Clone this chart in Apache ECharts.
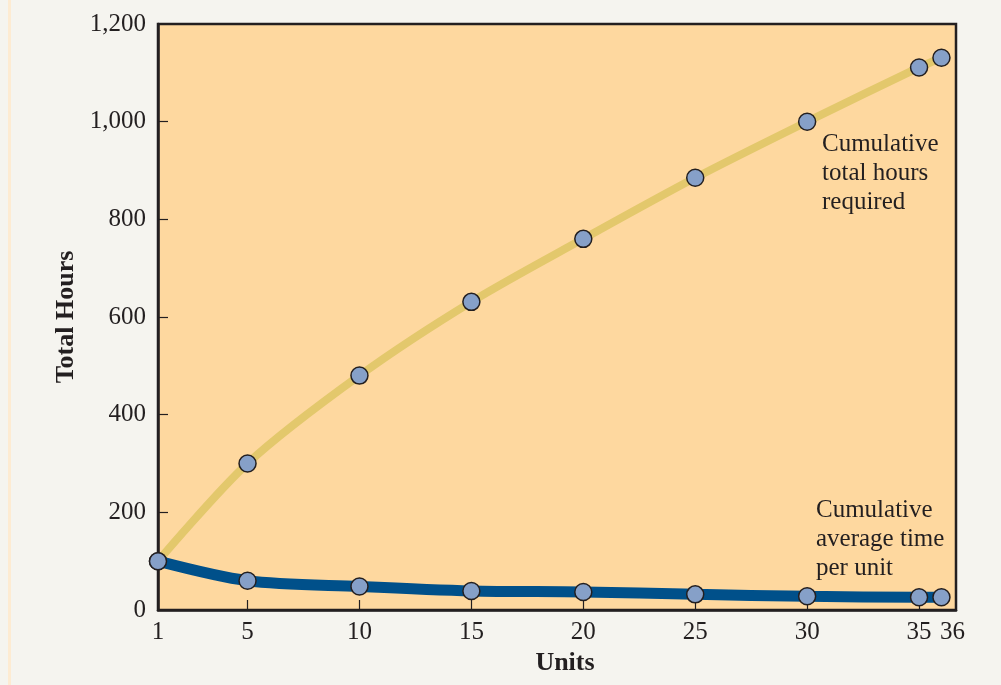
<!DOCTYPE html>
<html>
<head>
<meta charset="utf-8">
<script src="https://cdn.jsdelivr.net/npm/echarts@6/dist/echarts.min.js"></script>
<style>
html,body{margin:0;padding:0;background:#f5f4ef;}
#c{width:1001px;height:685px;}
</style>
</head>
<body>
<div id="c"></div>
<script>
const units = [1, 5, 10, 15, 20, 25, 30, 35, 36];
const totalHours = [100, 300, 480, 631, 760, 885, 1000, 1111, 1131];
const avgHours = [100, 60, 48, 39, 37, 32, 28, 26, 26];
const xTicks = [1, 5, 10, 15, 20, 25, 30, 35, 36];
const yTicks = [0, 200, 400, 600, 800, 1000, 1200];

const font = '"Liberation Serif", "DejaVu Serif", serif';
const chart = echarts.init(document.getElementById('c'));
const marker = {color: '#86a0c8', borderColor: '#231f20', borderWidth: 1.5};

chart.setOption({
  backgroundColor: '#f5f4ef',
  animation: false,
  grid: {left: 158, right: 45, top: 24, bottom: 75, show: true,
         backgroundColor: '#fed89f', borderColor: '#231f20', borderWidth: 2.5},
  xAxis: {
    type: 'value', min: 1, max: 36.65,
    name: 'Units', nameLocation: 'middle', nameGap: 38,
    nameTextStyle: {fontFamily: font, fontSize: 26, fontWeight: 'bold', color: '#231f20', padding: [0, 0, 0, 16]},
    axisLine: {show: true, lineStyle: {color: '#231f20', width: 2.5}},
    axisTick: {show: true, inside: true, length: 10, customValues: xTicks.slice(0, -1),
               lineStyle: {color: '#231f20', width: 1.2}},
    axisLabel: {customValues: xTicks, fontFamily: font, fontSize: 25, color: '#231f20', margin: 10,
                formatter: v => v === 36 ? '{r|36}' : String(v),
                rich: {r: {fontFamily: font, fontSize: 25, color: '#231f20', padding: [0, 0, 0, 22]}}},
    splitLine: {show: false}
  },
  yAxis: {
    type: 'value', min: 0, max: 1200, interval: 200,
    name: 'Total Hours', nameLocation: 'middle', nameGap: 71, nameRotate: 90,
    nameTextStyle: {fontFamily: font, fontSize: 26, fontWeight: 'bold', color: '#231f20'},
    axisLine: {show: true, lineStyle: {color: '#231f20', width: 2.5}},
    axisTick: {show: true, inside: true, length: 10, customValues: yTicks.slice(1, -1),
               lineStyle: {color: '#231f20', width: 1.2}},
    axisLabel: {fontFamily: font, fontSize: 25, color: '#231f20', margin: 12,
                formatter: v => v.toLocaleString('en-US')},
    splitLine: {show: false}
  },
  graphic: [
    {type: 'rect', left: 8, top: 0, shape: {width: 3, height: 685}, style: {fill: '#fdebd2'}, z: -1},
    {type: 'text', left: 822, top: 130, style: {text: 'Cumulative\ntotal hours\nrequired',
      font: '25px ' + font, fill: '#231f20', lineHeight: 29}},
    {type: 'text', left: 816, top: 496, style: {text: 'Cumulative\naverage time\nper unit',
      font: '25px ' + font, fill: '#231f20', lineHeight: 29}}
  ],
  series: [
    {type: 'line', data: units.map((u, i) => [u, totalHours[i]]), smooth: 0.3,
     lineStyle: {color: '#e3c86c', width: 8}, symbol: 'circle', symbolSize: 17,
     itemStyle: marker, z: 3},
    {type: 'line', data: units.map((u, i) => [u, avgHours[i]]), smooth: 0.3,
     lineStyle: {color: '#00508a', width: 11}, symbol: 'circle', symbolSize: 17,
     itemStyle: marker, z: 4}
  ]
});
</script>
</body>
</html>
